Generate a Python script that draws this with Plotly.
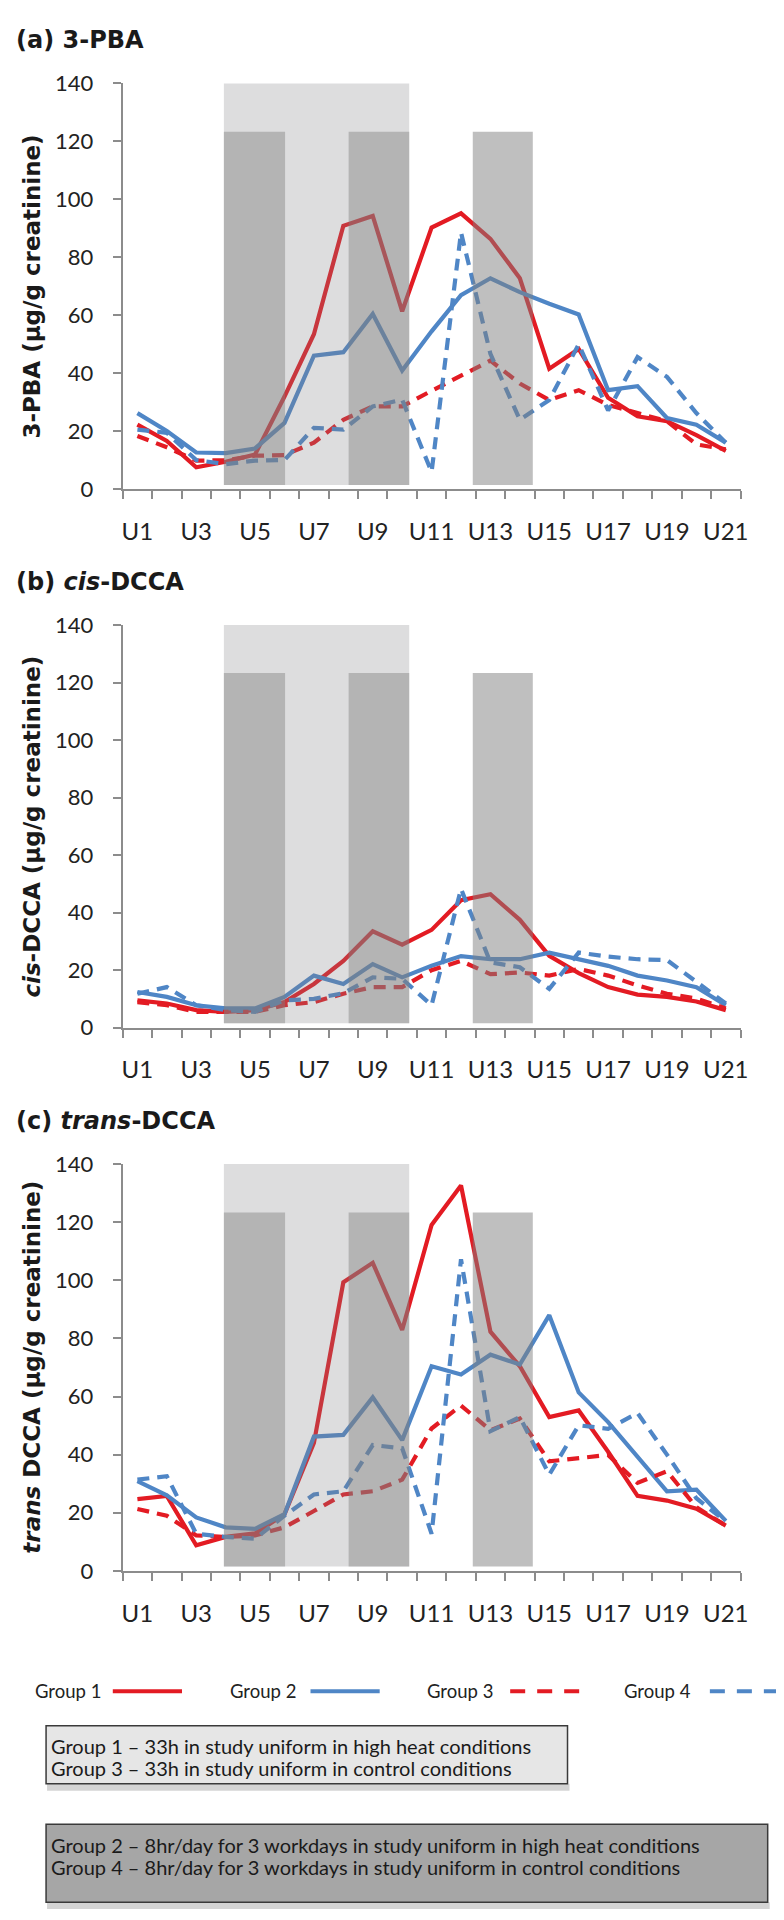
import plotly.graph_objects as go

# ---------------- data ----------------
categories = ["U1", "U2", "U3", "U4", "U5", "U6", "U7", "U8", "U9", "U10", "U11",
              "U12", "U13", "U14", "U15", "U16", "U17", "U18", "U19", "U20", "U21"]
series_names = ["Group 1", "Group 2", "Group 3", "Group 4"]

pba_g1 = [22.3, 16.7, 7.6, 9.5, 12.0, 32.0, 53.5, 90.9, 94.3, 61.4, 90.3, 95.2, 86.4, 72.8, 41.6, 48.4, 31.6, 25.2, 23.5, 18.7, 13.3]
pba_g2 = [26.3, 20.1, 12.7, 12.5, 14.1, 22.9, 46.1, 47.3, 60.5, 41.0, 54.5, 67.0, 72.8, 68.0, 64.0, 60.3, 34.2, 35.6, 24.6, 22.3, 16.1]
pba_g3 = [18.4, 14.5, 9.9, 10.0, 11.6, 11.8, 16.1, 24.0, 28.6, 28.6, 34.0, 39.0, 44.4, 36.5, 30.8, 34.2, 29.1, 26.3, 23.5, 15.5, 13.8]
pba_g4 = [20.6, 19.5, 10.1, 8.7, 9.9, 10.1, 21.2, 20.6, 28.6, 30.9, 6.0, 88.6, 46.7, 24.0, 30.8, 50.0, 27.2, 45.6, 38.8, 26.3, 16.1]

cis_g1 = [9.5, 8.4, 6.1, 5.5, 6.1, 8.9, 15.2, 23.2, 33.5, 28.9, 34.0, 44.3, 46.4, 37.5, 25.0, 19.0, 14.1, 11.5, 10.7, 9.1, 6.1]
cis_g2 = [12.4, 10.7, 7.8, 6.7, 6.7, 10.7, 18.1, 15.2, 22.1, 17.5, 21.5, 24.9, 23.8, 23.8, 26.1, 23.8, 21.5, 18.1, 16.4, 14.1, 7.8]
cis_g3 = [8.9, 7.8, 5.5, 5.5, 5.5, 7.8, 8.9, 11.8, 14.1, 14.1, 20.0, 23.2, 18.6, 19.2, 18.1, 20.4, 18.1, 14.7, 11.8, 10.1, 6.7]
cis_g4 = [11.8, 14.1, 7.8, 6.1, 5.5, 9.5, 10.0, 12.0, 17.5, 17.0, 7.8, 48.3, 22.7, 21.0, 13.5, 26.1, 24.7, 23.8, 23.5, 15.8, 8.4]

trans_g1 = [24.7, 25.8, 8.8, 11.7, 12.9, 19.5, 44.0, 99.3, 106.0, 82.9, 119.0, 132.6, 82.3, 70.4, 52.9, 55.2, 41.0, 25.8, 24.2, 21.4, 15.6]
trans_g2 = [30.9, 26.0, 18.4, 15.0, 14.5, 19.5, 46.2, 46.8, 59.7, 45.0, 70.4, 67.6, 74.4, 71.0, 88.0, 61.4, 51.2, 39.3, 27.4, 28.0, 17.2]
trans_g3 = [21.3, 19.0, 12.2, 11.7, 12.2, 15.0, 20.6, 26.3, 27.4, 31.4, 49.0, 56.9, 48.4, 52.4, 37.7, 38.8, 39.9, 30.3, 34.3, 21.9, 15.6]
trans_g4 = [31.4, 32.6, 12.8, 11.7, 11.1, 19.0, 26.3, 27.4, 43.3, 42.2, 12.8, 107.2, 48.1, 52.9, 33.1, 50.1, 48.9, 54.3, 40.0, 25.0, 17.0]

y_ticks = [0, 20, 40, 60, 80, 100, 120, 140]

# exposure periods (in category units)
light_period = (3.94, 10.24, 1.5, 140.5)
dark_periods = [(3.94, 6.02, 1.5, 123.3), (8.18, 10.24, 1.5, 123.3), (12.40, 14.44, 1.5, 123.3)]

panel_titles = ["<b>(a) 3-PBA</b>", "<b>(b) <i>cis</i>-DCCA</b>", "<b>(c) <i>trans</i>-DCCA</b>"]
y_titles = ["<b>3-PBA (µg/g creatinine)</b>",
            "<b><i>cis</i>-DCCA (µg/g creatinine)</b>",
            "<b><i>trans</i> DCCA (µg/g creatinine)</b>"]
box1_lines = ["Group 1 \u2013 33h in study uniform in high heat conditions",
              "Group 3 \u2013 33h in study uniform in control conditions"]
box2_lines = ["Group 2 \u2013 8hr/day for 3 workdays in study uniform in high heat conditions",
              "Group 4 \u2013 8hr/day for 3 workdays in study uniform in control conditions"]

# ---------------- styling / layout ----------------
W, H = 784, 1920
RED = "#E31B23"
BLUE = "#4F86C6"
AXIS = "#8C8C8C"
TICKFONT = "Lato, Liberation Sans, sans-serif"
BOLDFONT = "DejaVu Sans, Verdana, sans-serif"

def fx(p):
    return p / W

def fy(p):
    return 1 - p / H

styles = [dict(color=RED, width=4.2, dash="solid"),
          dict(color=BLUE, width=4.2, dash="solid"),
          dict(color=RED, width=4.2, dash="12px,8px"),
          dict(color=BLUE, width=4.2, dash="12px,8px")]

panels = [
    dict(data=[pba_g1, pba_g2, pba_g3, pba_g4], top=62.3, bottom=474.0, title_y=18),
    dict(data=[cis_g1, cis_g2, cis_g3, cis_g4], top=611.7, bottom=1020.0, title_y=568),
    dict(data=[trans_g1, trans_g2, trans_g3, trans_g4], top=1158.3, bottom=1571.0, title_y=1115),
]

xs = list(range(1, len(categories) + 1))
boundaries = [i + 0.5 for i in range(len(categories) + 1)]

fig = go.Figure()
shapes = []
annotations = []
layout_axes = {}

for k, panel in enumerate(panels):
    xa = "x" if k == 0 else f"x{k+1}"
    ya = "y" if k == 0 else f"y{k+1}"
    for name, vals, st in zip(series_names, panel["data"], styles):
        fig.add_trace(go.Scatter(x=xs, y=vals, mode="lines", name=name, line=st,
                                 xaxis=xa, yaxis=ya, showlegend=False,
                                 hoverinfo="skip"))
    xkey = "xaxis" if k == 0 else f"xaxis{k+1}"
    ykey = "yaxis" if k == 0 else f"yaxis{k+1}"
    layout_axes[xkey] = dict(
        domain=[fx(115), fx(740)], anchor=ya, range=[0.5, len(categories) + 0.5],
        tickmode="array", tickvals=xs[::2], ticktext=categories[::2], ticks="",
        minor=dict(tickmode="array", tickvals=boundaries, ticks="outside", ticklen=8,
                   tickwidth=2, tickcolor=AXIS, showgrid=False),
        showline=True, linecolor=AXIS, linewidth=2, showgrid=False, zeroline=False,
        tickfont=dict(family=TICKFONT, size=24, color="#222222"), ticklabelstandoff=20,
        fixedrange=True)
    layout_axes[ykey] = dict(
        domain=[fy(panel["bottom"]), fy(panel["top"])], anchor=xa, range=[0, 140],
        tickmode="array", tickvals=y_ticks, ticks="outside", ticklen=8, tickwidth=2,
        tickcolor=AXIS, showline=True, linecolor=AXIS, linewidth=2, showgrid=False,
        zeroline=False, tickfont=dict(family=TICKFONT, size=22, color="#222222"),
        ticklabelstandoff=15, fixedrange=True)

    # shading (drawn above lines, semi-transparent)
    x0, x1, y0, y1 = light_period
    shapes.append(dict(type="rect", xref=xa, yref=ya, x0=x0, x1=x1, y0=y0, y1=y1,
                       fillcolor="rgba(128,128,132,0.27)", line=dict(width=0), layer="above"))
    for j, (x0, x1, y0, y1) in enumerate(dark_periods):
        alpha = 0.44 if j < 2 else 0.50
        shapes.append(dict(type="rect", xref=xa, yref=ya, x0=x0, x1=x1, y0=y0, y1=y1,
                           fillcolor=f"rgba(128,128,128,{alpha})", line=dict(width=0),
                           layer="above"))

    mid = (panel["top"] + panel["bottom"]) / 2
    annotations.append(dict(text=y_titles[k], xref="paper", yref="paper",
                            x=fx(23.5), y=fy(mid), xanchor="center", yanchor="middle",
                            textangle=-90, showarrow=False,
                            font=dict(family=BOLDFONT, size=23, color="#1a1a1a")))
    annotations.append(dict(text=panel_titles[k], xref="paper", yref="paper",
                            x=fx(5), y=fy(panel["title_y"]), xanchor="left", yanchor="middle",
                            showarrow=False,
                            font=dict(family=BOLDFONT, size=24, color="#1a1a1a")))

# legend row
leg_y = 1693
leg_items = [(24, 105, 175), (222, 305, 375), (421, 507, 577), (620, 709, 780)]
for name, st, (tx, lx0, lx1) in zip(series_names, styles, leg_items):
    annotations.append(dict(text=name, xref="paper", yref="paper", x=fx(tx), y=fy(leg_y),
                            xanchor="left", yanchor="middle", showarrow=False,
                            font=dict(family=TICKFONT, size=18.5, color="#222222")))
    dash = "solid" if st["dash"] == "solid" else "15px,12px"
    shapes.append(dict(type="line", xref="paper", yref="paper", x0=fx(lx0), x1=fx(lx1),
                       y0=fy(leg_y), y1=fy(leg_y),
                       line=dict(color=st["color"], width=4, dash=dash)))

# description boxes
boxes = [(37.5, 565, 1728, 1787, "#E6E6E6", box1_lines, 1748.5, 1771),
         (37.5, 767.5, 1828, 1907, "#A6A6A6", box2_lines, 1848.5, 1871)]
for (bx0, bx1, by0, by1, fill, lines, l1, l2) in boxes:
    shapes.append(dict(type="rect", xref="paper", yref="paper", x0=fx(bx0 + 1), x1=fx(bx1 + 2),
                       y0=fy(by1 + 7), y1=fy(by1), fillcolor="#D4D4D4", line=dict(width=0)))
    shapes.append(dict(type="rect", xref="paper", yref="paper", x0=fx(bx0), x1=fx(bx1),
                       y0=fy(by1), y1=fy(by0), fillcolor=fill,
                       line=dict(color="#3A3A3A", width=1.5)))
    for txt, ly in zip(lines, (l1, l2)):
        annotations.append(dict(text=txt, xref="paper", yref="paper", x=fx(40), y=fy(ly),
                                xanchor="left", yanchor="middle", showarrow=False,
                                font=dict(family=TICKFONT, size=20, color="#1a1a1a")))

fig.update_layout(width=W, height=H, margin=dict(l=0, r=0, t=0, b=0),
                  paper_bgcolor="white", plot_bgcolor="white", showlegend=False,
                  shapes=shapes, annotations=annotations, **layout_axes)

fig.write_html("out.html")
